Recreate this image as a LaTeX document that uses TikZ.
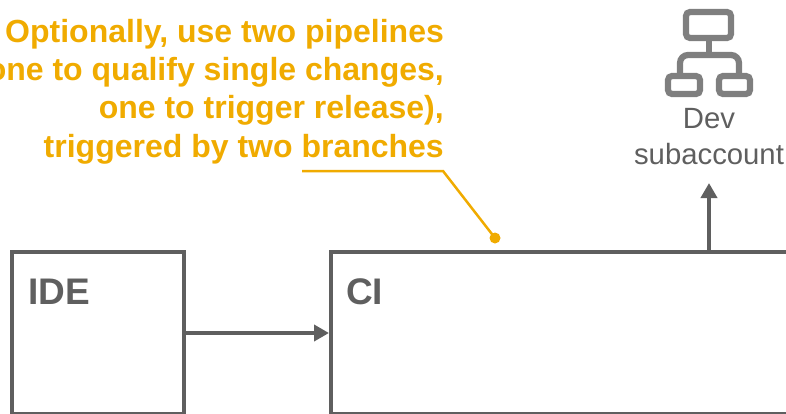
\documentclass[tikz,border=0pt]{standalone}
\usepackage{fontspec}
\setmainfont{Liberation Sans}
\usetikzlibrary{arrows.meta}
\definecolor{boxgrey}{HTML}{5F5F5F}
\definecolor{icongrey}{HTML}{7F7F7F}
\definecolor{notegold}{HTML}{F0AB00}
\tikzstyle{block}=[rectangle,draw=boxgrey,line width=4pt,minimum height=162pt,inner sep=0pt]
\tikzstyle{blocklabel}=[text=boxgrey,font={\fontsize{37}{44}\selectfont\bfseries},anchor=base west,inner sep=0pt]
\tikzstyle{link}=[draw=boxgrey,line width=4pt,-{Triangle[length=15pt,width=16pt]}]
\tikzstyle{note}=[notegold,line width=2.5pt]
\tikzstyle{pict}=[icongrey,line width=6.2pt,rounded corners=4pt]
\begin{document}
\begin{tikzpicture}[x=1pt,y=-1pt]
		\useasboundingbox (0,0) rectangle (786,413);
		\clip (0,0) rectangle (786,413);
		%***********************
		\node [block,minimum width=172pt] (ide) at (98,333) {};
		\node [block,minimum width=756pt] (ci) at (709,333) {};
		\node [blocklabel] (idelabel) at (28,304) {IDE};
		\node [blocklabel] (cilabel) at (346,304) {CI};
		%***********************
		\node [text=boxgrey,font={\fontsize{29.3}{35.5}\selectfont},align=center,anchor=north,inner sep=0pt] (dev) at (709,108.5) {Dev\\subaccount};
		\coordinate (devtip) at (709,183);
		%***********************
		\node [text=notegold,font={\fontsize{32}{38.3}\selectfont\bfseries},align=right,anchor=north east,inner sep=0pt] (remark) at (444,19) {Optionally, use two pipelines\\(one to qualify single changes,\\one to trigger release),\\triggered by two branches};
		\coordinate (n1) at (302,171);
		\coordinate (n2) at (443,171);
		\coordinate (n3) at (495,238);
		%***********************
		\path [link] (ide) -- (ci);
		\path [link] (ci.north) -- (devtip);
		\draw [note] (n1) -- (n2) -- (n3);
		\fill [notegold] (n3) circle (5.5);
		%***********************
		\draw [pict] (686,12) rectangle (731,38);
		\draw [pict] (668,76) rectangle (700,94);
		\draw [pict] (719,76) rectangle (750,94);
		\draw [pict,rounded corners=0pt] (709,38) -- (709,55);
		\draw [pict,rounded corners=8pt] (680,76) -- (680,55) -- (739,55) -- (739,76);
\end{tikzpicture}
\end{document}
